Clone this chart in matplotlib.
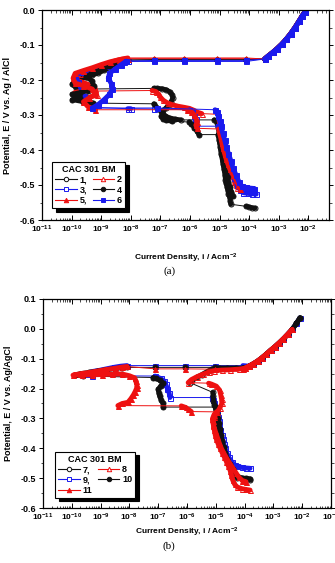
import numpy as np
import matplotlib
matplotlib.use('Agg')
import matplotlib.pyplot as plt
from matplotlib.lines import Line2D
from matplotlib.ticker import LogLocator, FuncFormatter, MultipleLocator, FormatStrFormatter, NullFormatter

plt.rcParams['font.family'] = 'Liberation Sans'
plt.rcParams['mathtext.fontset'] = 'custom'
plt.rcParams['mathtext.rm'] = 'Liberation Sans:bold'
plt.rcParams['mathtext.it'] = 'Liberation Sans:bold'
plt.rcParams['mathtext.bf'] = 'Liberation Sans:bold'

# ---- data, (log10 i [A/cm2], E [V]) ----
# panel (a): shared anodic branch above the breakdown potential
anodic_a = [(-3.48, -0.140), (-3.35, -0.131), (-3.20, -0.121), (-3.05, -0.110), (-2.90, -0.098),
            (-2.75, -0.084), (-2.60, -0.068), (-2.45, -0.050), (-2.30, -0.030), (-2.20, -0.016),
            (-2.12, -0.006)]

a1 = [(-3.80, -0.566), (-3.90, -0.565), (-4.00, -0.563), (-4.10, -0.561),
      (-4.62, -0.555), (-4.64, -0.545), (-4.66, -0.535), (-4.70, -0.525), (-4.72, -0.515), (-4.75, -0.505),
      (-4.78, -0.495), (-4.80, -0.485), (-4.82, -0.470), (-4.85, -0.455), (-4.88, -0.440), (-4.90, -0.425),
      (-4.93, -0.410), (-4.95, -0.395), (-4.98, -0.380), (-5.00, -0.365), (-5.02, -0.350), (-5.05, -0.335),
      (-5.07, -0.322), (-5.18, -0.314),
      (-6.31, -0.314), (-6.50, -0.312), (-6.70, -0.308), (-6.85, -0.302), (-6.95, -0.295), (-6.90, -0.287),
      (-6.80, -0.279), (-6.72, -0.271), (-6.64, -0.262), (-6.58, -0.252), (-6.60, -0.242), (-6.68, -0.234),
      (-6.80, -0.228), (-6.95, -0.225), (-7.10, -0.224), (-7.22, -0.224),
      (-9.71, -0.226), (-9.85, -0.222), (-9.98, -0.212), (-9.90, -0.203), (-9.70, -0.197), (-9.50, -0.192),
      (-9.30, -0.186), (-9.10, -0.180), (-8.90, -0.172), (-8.70, -0.164), (-8.50, -0.156), (-8.30, -0.149),
      (-8.12, -0.143),
      (-7.20, -0.142), (-6.20, -0.142), (-5.10, -0.142), (-4.10, -0.142)] + anodic_a

a2 = [(-4.40, -0.508), (-4.45, -0.500), (-4.50, -0.490), (-4.55, -0.475), (-4.62, -0.460), (-4.70, -0.445),
      (-4.75, -0.430), (-4.80, -0.415), (-4.85, -0.400), (-4.90, -0.385), (-4.93, -0.370), (-4.96, -0.355),
      (-4.98, -0.340), (-5.00, -0.325), (-5.02, -0.310), (-5.05, -0.298),
      (-5.60, -0.296), (-5.75, -0.292), (-5.88, -0.286), (-6.02, -0.281), (-6.20, -0.278), (-6.40, -0.275),
      (-6.58, -0.271), (-6.75, -0.266), (-6.90, -0.258), (-7.00, -0.249), (-7.06, -0.240), (-7.15, -0.233),
      (-7.28, -0.230),
      (-9.70, -0.232), (-9.90, -0.236), (-9.65, -0.244), (-9.40, -0.250), (-9.15, -0.243), (-9.20, -0.225),
      (-9.45, -0.212), (-9.75, -0.203), (-9.92, -0.192), (-9.70, -0.182), (-9.45, -0.175), (-9.15, -0.165),
      (-8.85, -0.155), (-8.55, -0.146), (-8.30, -0.140), (-8.10, -0.137),
      (-7.20, -0.137), (-6.20, -0.137), (-5.10, -0.137), (-4.10, -0.137)] + anodic_a

a3 = [(-3.76, -0.526), (-3.90, -0.525), (-4.05, -0.524), (-4.20, -0.522), (-4.30, -0.515), (-4.40, -0.500),
      (-4.50, -0.480), (-4.60, -0.460), (-4.70, -0.440), (-4.78, -0.420), (-4.85, -0.400), (-4.90, -0.380),
      (-4.95, -0.362), (-5.00, -0.346), (-5.05, -0.332),
      (-5.78, -0.332), (-5.84, -0.322), (-5.80, -0.312), (-5.85, -0.302), (-5.92, -0.292), (-6.02, -0.285),
      (-7.20, -0.283), (-8.00, -0.282), (-8.10, -0.282),
      (-9.25, -0.278), (-9.45, -0.265), (-9.58, -0.245), (-9.68, -0.225), (-9.78, -0.205), (-9.88, -0.188),
      (-9.68, -0.177), (-9.40, -0.171), (-9.10, -0.165), (-8.80, -0.159), (-8.50, -0.153), (-8.22, -0.148),
      (-8.10, -0.147),
      (-7.20, -0.147), (-6.20, -0.147), (-5.10, -0.147), (-4.10, -0.147)] + anodic_a

a4 = [(-4.55, -0.530), (-4.60, -0.520), (-4.65, -0.505), (-4.70, -0.490), (-4.73, -0.477), (-4.78, -0.462),
      (-4.85, -0.446), (-4.90, -0.430), (-4.95, -0.410), (-4.98, -0.390), (-5.02, -0.370), (-5.05, -0.356),
      (-5.70, -0.356), (-5.76, -0.346), (-5.85, -0.336), (-5.95, -0.326), (-6.02, -0.320),
      (-6.60, -0.318), (-6.80, -0.315), (-6.92, -0.310), (-6.97, -0.304), (-6.90, -0.298), (-7.10, -0.280),
      (-7.22, -0.268),
      (-9.27, -0.266), (-9.60, -0.262), (-9.98, -0.256), (-9.72, -0.250), (-9.98, -0.241), (-9.72, -0.236),
      (-9.45, -0.230), (-9.25, -0.216), (-9.32, -0.202), (-9.50, -0.191), (-9.30, -0.180), (-9.00, -0.170),
      (-8.70, -0.160), (-8.40, -0.151), (-8.12, -0.143),
      (-7.20, -0.142), (-6.20, -0.142), (-5.10, -0.142), (-4.10, -0.142)] + anodic_a

a5 = [(-4.30, -0.512), (-4.36, -0.500), (-4.45, -0.485), (-4.55, -0.470), (-4.65, -0.455), (-4.72, -0.440),
      (-4.78, -0.425), (-4.83, -0.410), (-4.88, -0.395), (-4.92, -0.380), (-4.96, -0.365), (-5.00, -0.352),
      (-5.03, -0.340),
      (-5.75, -0.338), (-5.80, -0.329), (-5.75, -0.319), (-5.80, -0.309), (-5.86, -0.299), (-5.96, -0.290),
      (-6.10, -0.285),
      (-9.20, -0.285), (-9.45, -0.276), (-9.60, -0.262), (-9.40, -0.251), (-9.20, -0.240), (-9.30, -0.226),
      (-9.60, -0.216), (-9.88, -0.209), (-9.95, -0.195), (-9.88, -0.181), (-9.60, -0.173), (-9.30, -0.165),
      (-9.00, -0.156), (-8.70, -0.148), (-8.40, -0.142), (-8.10, -0.139),
      (-7.20, -0.139), (-6.20, -0.139), (-5.10, -0.139), (-4.10, -0.139)] + anodic_a

a6 = [(-3.82, -0.510), (-3.95, -0.509), (-4.10, -0.507), (-4.25, -0.503), (-4.35, -0.490), (-4.45, -0.470),
      (-4.55, -0.450), (-4.62, -0.430), (-4.70, -0.410), (-4.77, -0.390), (-4.83, -0.370), (-4.90, -0.350),
      (-4.95, -0.332), (-5.00, -0.316), (-5.05, -0.302), (-5.10, -0.291), (-5.15, -0.285),
      (-7.10, -0.280),
      (-9.30, -0.280), (-9.10, -0.270), (-8.90, -0.256), (-8.72, -0.241), (-8.62, -0.225), (-8.66, -0.210),
      (-8.76, -0.195), (-8.72, -0.181), (-8.52, -0.168), (-8.32, -0.156), (-8.15, -0.146),
      (-7.20, -0.144), (-6.20, -0.144), (-5.10, -0.144), (-4.10, -0.144)] + anodic_a

# panel (b)
anodic_b = [(-4.00, -0.132), (-3.85, -0.125), (-3.70, -0.117), (-3.55, -0.108), (-3.40, -0.097),
            (-3.25, -0.085), (-3.10, -0.072), (-2.95, -0.060), (-2.80, -0.047), (-2.65, -0.033),
            (-2.50, -0.018), (-2.35, -0.002), (-2.20, 0.018), (-2.08, 0.037)]

b7 = [(-3.81, -0.505), (-3.95, -0.504), (-4.10, -0.502), (-4.25, -0.499), (-4.35, -0.490), (-4.45, -0.475),
      (-4.55, -0.456), (-4.62, -0.440), (-4.70, -0.420), (-4.75, -0.400), (-4.80, -0.380), (-4.85, -0.360),
      (-4.88, -0.340), (-4.92, -0.320), (-4.95, -0.300), (-4.97, -0.285), (-5.00, -0.270), (-5.05, -0.255),
      (-5.08, -0.240), (-5.10, -0.225), (-5.10, -0.213),
      (-5.90, -0.180), (-5.82, -0.172), (-5.65, -0.162), (-5.48, -0.153), (-5.30, -0.143), (-5.13, -0.134),
      (-4.90, -0.131), (-4.60, -0.131), (-4.30, -0.131)] + anodic_b

b8 = [(-3.81, -0.540), (-3.95, -0.538), (-4.10, -0.535), (-4.25, -0.530), (-4.35, -0.520), (-4.42, -0.505),
      (-4.46, -0.490), (-4.50, -0.475), (-4.56, -0.460), (-4.63, -0.445), (-4.70, -0.430), (-4.78, -0.415),
      (-4.85, -0.400), (-4.92, -0.385), (-4.98, -0.370), (-5.02, -0.355), (-5.05, -0.340), (-5.08, -0.325),
      (-5.10, -0.310), (-5.05, -0.295), (-4.96, -0.280), (-4.86, -0.265), (-4.79, -0.250), (-4.80, -0.235),
      (-4.83, -0.220), (-4.87, -0.205), (-4.98, -0.192), (-5.15, -0.185), (-5.25, -0.182),
      (-5.96, -0.180), (-5.85, -0.170), (-5.65, -0.160), (-5.45, -0.152), (-5.25, -0.145), (-5.05, -0.140),
      (-4.80, -0.138), (-4.50, -0.137), (-4.20, -0.135)] + anodic_b[:-2]

b9 = [(-3.81, -0.467), (-3.95, -0.466), (-4.10, -0.464), (-4.25, -0.460), (-4.35, -0.455), (-4.45, -0.445),
      (-4.55, -0.430), (-4.62, -0.415), (-4.68, -0.400), (-4.72, -0.385), (-4.76, -0.370), (-4.80, -0.355),
      (-4.85, -0.340), (-4.88, -0.325), (-4.90, -0.310), (-4.93, -0.295), (-4.96, -0.280), (-5.00, -0.265),
      (-5.05, -0.250), (-5.10, -0.238), (-5.13, -0.230),
      (-6.59, -0.230), (-6.62, -0.215), (-6.68, -0.200), (-6.74, -0.186), (-6.80, -0.174), (-6.92, -0.166),
      (-7.11, -0.158),
      (-9.30, -0.157), (-9.45, -0.150), (-9.30, -0.143), (-9.05, -0.139), (-8.80, -0.134), (-8.55, -0.129),
      (-8.30, -0.125), (-8.08, -0.123),
      (-7.11, -0.123), (-6.07, -0.123), (-5.03, -0.123), (-4.06, -0.123)] + anodic_b[1:]

b10 = [(-3.81, -0.502), (-3.95, -0.501), (-4.10, -0.499), (-4.22, -0.495), (-4.32, -0.485), (-4.42, -0.470),
       (-4.52, -0.452), (-4.60, -0.435), (-4.67, -0.415), (-4.73, -0.395), (-4.78, -0.375), (-4.83, -0.355),
       (-4.86, -0.335), (-4.90, -0.315), (-4.93, -0.298), (-4.96, -0.282), (-4.98, -0.268), (-5.00, -0.262),
       (-6.83, -0.262), (-6.83, -0.250), (-6.90, -0.238), (-6.95, -0.226), (-6.98, -0.214), (-7.00, -0.203),
       (-6.92, -0.192), (-6.83, -0.182), (-6.95, -0.172), (-7.08, -0.166), (-7.18, -0.163),
       (-9.60, -0.158), (-9.90, -0.155), (-9.70, -0.150), (-9.40, -0.146), (-9.10, -0.141), (-8.80, -0.137),
       (-8.50, -0.133), (-8.25, -0.130), (-8.08, -0.129),
       (-7.11, -0.129), (-6.07, -0.129), (-5.03, -0.129), (-4.06, -0.130)] + anodic_b

b11 = [(-3.95, -0.512), (-4.08, -0.508), (-4.20, -0.497), (-4.30, -0.482), (-4.40, -0.467), (-4.50, -0.452),
       (-4.60, -0.437), (-4.70, -0.420), (-4.80, -0.402), (-4.88, -0.382), (-4.95, -0.362), (-5.02, -0.342),
       (-5.08, -0.322), (-5.12, -0.302), (-5.06, -0.287), (-4.98, -0.278),
       (-5.85, -0.277), (-5.95, -0.270), (-6.05, -0.263), (-6.20, -0.258),
       (-8.40, -0.257), (-8.25, -0.250), (-8.05, -0.246), (-7.95, -0.234), (-7.86, -0.221), (-7.80, -0.210),
       (-7.75, -0.199), (-7.74, -0.188), (-7.78, -0.175), (-7.82, -0.164), (-8.00, -0.157), (-8.26, -0.151),
       (-8.60, -0.152), (-8.95, -0.153), (-9.30, -0.154), (-9.65, -0.154), (-9.96, -0.155), (-9.70, -0.150),
       (-9.40, -0.146), (-9.10, -0.141), (-8.80, -0.136), (-8.50, -0.132), (-8.25, -0.128), (-8.08, -0.126),
       (-7.11, -0.134), (-6.07, -0.134), (-5.03, -0.135), (-4.06, -0.136)] + anodic_b[:-2]

labels_a = ['1,', '2', '3,', '4', '5,', '6']
labels_b = ['7,', '8', '9,', '10', '11']

BLACK, RED, BLUE = '#111111', '#ee1111', '#1a1aee'
style = {
    '1,': (BLACK, 'o', False), '2': (RED, '^', False), '3,': (BLUE, 's', False),
    '4': (BLACK, 'o', True), '5,': (RED, '^', True), '6': (BLUE, 's', True),
    '7,': (BLACK, 'o', False), '8': (RED, '^', False), '9,': (BLUE, 's', False),
    '10': (BLACK, 'o', True), '11': (RED, '^', True),
}


def draw_curve(ax, pts, color, marker, filled):
    pts = np.array(pts)
    lg, e = pts[:, 0], pts[:, 1]
    x = 10.0 ** lg
    ax.plot(x, e, '-', color=color, lw=0.7)
    # dense scan stretches look like a thick band
    xs, ys = [x[0]], [e[0]]
    for k in range(1, len(x)):
        if abs(lg[k] - lg[k - 1]) > 0.45:
            xs.append(np.nan)
            ys.append(np.nan)
        xs.append(x[k])
        ys.append(e[k])
    ax.plot(xs, ys, '-', color=color, lw=3.5, solid_capstyle='round', solid_joinstyle='round')
    ax.plot(x, e, ls='none', marker=marker, ms=3.6, mec=color,
            mfc=color if filled else 'none', mew=0.7)


def legend_handle(lab):
    color, marker, filled = style[lab]
    return Line2D([], [], color=color, lw=0.8, marker=marker, ms=3.2, mec=color,
                  mfc=color if filled else 'white', mew=0.7)


def setup_axis(ax, ymin, ymax, xmax):
    ax.set_xscale('log')
    ax.set_xlim(1e-11, xmax)
    ax.set_ylim(ymin, ymax)
    ax.xaxis.set_major_locator(LogLocator(base=10, numticks=20))
    ax.xaxis.set_minor_locator(LogLocator(base=10, subs=np.arange(2, 10), numticks=20))
    ax.xaxis.set_major_formatter(FuncFormatter(lambda v, p: r'10$^{%d}$' % round(np.log10(v))))
    ax.xaxis.set_minor_formatter(NullFormatter())
    ax.yaxis.set_major_locator(MultipleLocator(0.1))
    ax.yaxis.set_minor_locator(MultipleLocator(0.05))
    ax.yaxis.set_major_formatter(FormatStrFormatter('%.1f'))
    ax.tick_params(axis='x', which='both', direction='in', top=True, labelsize=6, pad=3)
    ax.tick_params(axis='x', which='major', length=3.5, width=0.7)
    ax.tick_params(axis='x', which='minor', length=1.8, width=0.5)
    ax.tick_params(axis='y', which='both', direction='out', right=True, labelsize=6.5, pad=2)
    ax.tick_params(axis='y', which='major', length=3, width=0.7)
    ax.tick_params(axis='y', which='minor', length=1.8, width=0.5)
    for lab in ax.get_xticklabels() + ax.get_yticklabels():
        lab.set_fontweight('bold')
    for s in ax.spines.values():
        s.set_linewidth(0.9)


fig = plt.figure(figsize=(3.35, 5.63), dpi=100)
ax_a = fig.add_axes([42 / 335, 1 - 220 / 563, 287 / 335, 210 / 563])
ax_b = fig.add_axes([43 / 335, 1 - 508 / 563, 288 / 335, 209 / 563])

curves_a = {'1,': a1, '2': a2, '3,': a3, '4': a4, '5,': a5, '6': a6}
for lab in ['1,', '2', '3,', '4', '5,', '6']:
    draw_curve(ax_a, curves_a[lab], *style[lab])

curves_b = {'7,': b7, '8': b8, '9,': b9, '10': b10, '11': b11}
for lab in ['9,', '7,', '10', '8', '11']:
    draw_curve(ax_b, curves_b[lab], *style[lab])

setup_axis(ax_a, -0.6, 0.0, 0.05)
setup_axis(ax_b, -0.6, 0.1, 0.1)

ax_a.set_xlabel('Current Density, i / Acm$^{-2}$', fontsize=6, fontweight='bold', labelpad=12)
ax_b.set_xlabel('Current Density, i / Acm$^{-2}$', fontsize=6, fontweight='bold', labelpad=1.5)
ax_a.set_ylabel('Potential, E / V vs. Ag / AlCl', fontsize=6.5, fontweight='bold', labelpad=5)
ax_b.set_ylabel('Potential, E / V vs. Ag/AgCl', fontsize=6.5, fontweight='bold', labelpad=5)

fig.text(0.505, 1 - 271 / 563, '(a)', family='Liberation Serif', fontsize=8, ha='center', va='center')
fig.text(0.505, 1 - 546 / 563, '(b)', family='Liberation Serif', fontsize=8, ha='center', va='center')

shadow = {'facecolor': 'black', 'edgecolor': 'black', 'alpha': 1, 'ox': 2.5, 'oy': -2.5}
for ax, labs, anchor in [(ax_a, labels_a, (0.035, 0.057)), (ax_b, labels_b, (0.042, 0.048))]:
    order = labs[0::2] + labs[1::2]
    leg = ax.legend([legend_handle(l) for l in order], order, ncol=2, loc='lower left',
                    bbox_to_anchor=anchor, borderaxespad=0, title='CAC 301 BM',
                    prop={'size': 6.5, 'weight': 'bold'}, title_fontproperties={'size': 6.5, 'weight': 'bold'},
                    fancybox=False, shadow=shadow, framealpha=1, edgecolor='black',
                    handlelength=2.4, handletextpad=0.3, columnspacing=0.6, labelspacing=0.15,
                    borderpad=0.35)
    leg.get_frame().set_linewidth(0.8)

fig.savefig('out.png', dpi=100)
